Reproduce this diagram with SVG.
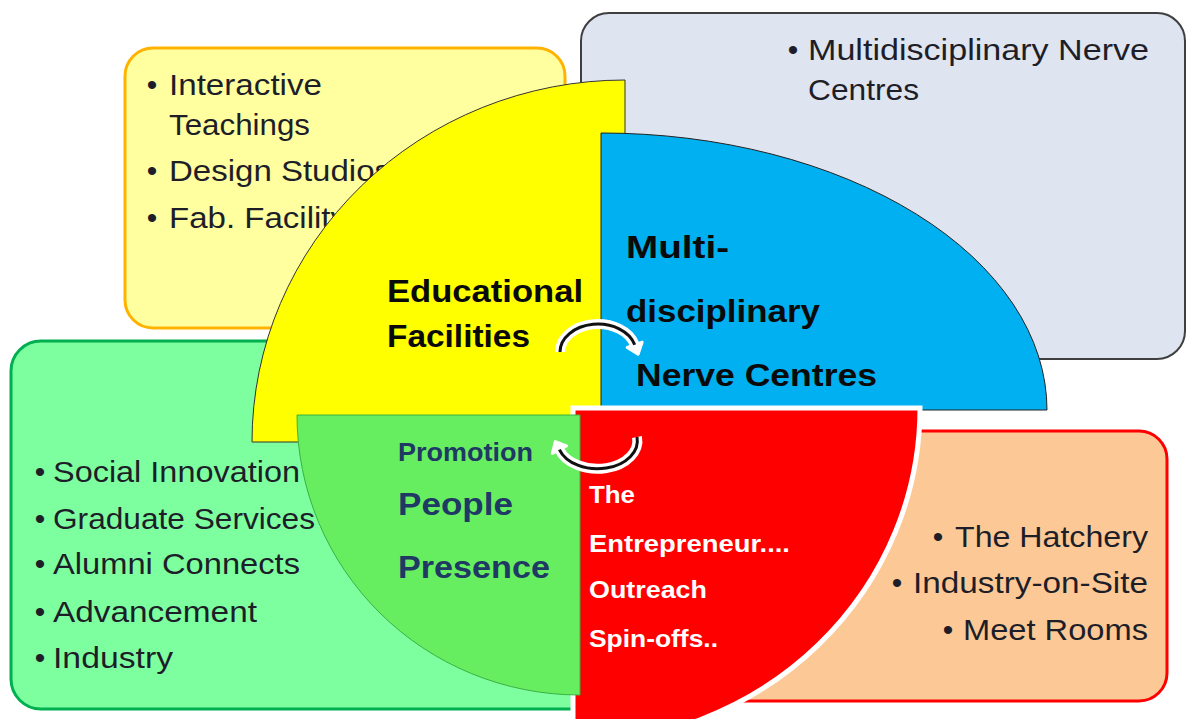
<svg xmlns="http://www.w3.org/2000/svg" width="1187" height="719" viewBox="0 0 1187 719">
<style>
.t{font-family:"Liberation Sans",Arial,sans-serif;font-size:30px;fill:#1e1e28}
.b{font-family:"Liberation Sans",Arial,sans-serif;font-size:30px;fill:#1e1e28;text-anchor:middle}
.lb{font-family:"Liberation Sans",Arial,sans-serif;font-weight:bold;font-size:32px;fill:#0a0a0a}
.nv{font-family:"Liberation Sans",Arial,sans-serif;font-weight:bold;fill:#203864}
.wt{font-family:"Liberation Sans",Arial,sans-serif;font-weight:bold;font-size:24px;fill:#ffffff}
.halo{fill:none;stroke:#ffffff;stroke-width:10}
.line{fill:none;stroke:#111111;stroke-width:3}
</style>
<rect width="1187" height="719" fill="#ffffff"/>
<g id="box-nerve">
<rect x="581" y="13" width="604" height="346" rx="28" fill="#dee4f0" stroke="#3f3f3f" stroke-width="2"/>
<text class="b" x="793" y="60">•</text>
<text class="t" x="808" y="60" textLength="341" lengthAdjust="spacingAndGlyphs">Multidisciplinary Nerve</text>
<text class="t" x="808" y="100" textLength="111" lengthAdjust="spacingAndGlyphs">Centres</text>
</g>
<g id="box-education">
<rect x="125" y="48" width="440" height="280" rx="28" fill="#ffffa0" stroke="#ffb300" stroke-width="3"/>
<text class="b" x="152" y="95">•</text>
<text class="t" x="169" y="95" textLength="153" lengthAdjust="spacingAndGlyphs">Interactive</text>
<text class="t" x="169" y="135" textLength="141" lengthAdjust="spacingAndGlyphs">Teachings</text>
<text class="b" x="152" y="181">•</text>
<text class="t" x="169" y="181" textLength="222" lengthAdjust="spacingAndGlyphs">Design Studios</text>
<text class="b" x="152" y="228">•</text>
<text class="t" x="169" y="228" textLength="178" lengthAdjust="spacingAndGlyphs">Fab. Facility</text>
</g>
<g id="box-promotion">
<rect x="11" y="341" width="640" height="368" rx="30" fill="#7dffa0" stroke="#00b050" stroke-width="3"/>
<text class="b" x="40" y="482">•</text>
<text class="t" x="53" y="482" textLength="247" lengthAdjust="spacingAndGlyphs">Social Innovation</text>
<text class="b" x="40" y="529">•</text>
<text class="t" x="53" y="529" textLength="262" lengthAdjust="spacingAndGlyphs">Graduate Services</text>
<text class="b" x="40" y="574">•</text>
<text class="t" x="53" y="574" textLength="247" lengthAdjust="spacingAndGlyphs">Alumni Connects</text>
<text class="b" x="40" y="622">•</text>
<text class="t" x="53" y="622" textLength="204" lengthAdjust="spacingAndGlyphs">Advancement</text>
<text class="b" x="40" y="668">•</text>
<text class="t" x="53" y="668" textLength="120" lengthAdjust="spacingAndGlyphs">Industry</text>
</g>
<g id="box-entrepreneur">
<rect x="620" y="431" width="547" height="270" rx="28" fill="#fcc996" stroke="#ff0000" stroke-width="3"/>
<text class="b" x="938" y="547">•</text>
<text class="t" x="955" y="547" textLength="193" lengthAdjust="spacingAndGlyphs">The Hatchery</text>
<text class="b" x="897" y="593">•</text>
<text class="t" x="913" y="593" textLength="235" lengthAdjust="spacingAndGlyphs">Industry-on-Site</text>
<text class="b" x="948" y="640">•</text>
<text class="t" x="963" y="640" textLength="185" lengthAdjust="spacingAndGlyphs">Meet Rooms</text>
</g>
<g id="quarter-education">
<path d="M625,442 L252,442 A373,362 0 0 1 625,80 Z" fill="#ffff00" stroke="#333333" stroke-width="1"/>
<text class="lb" x="387" y="302" textLength="196" lengthAdjust="spacingAndGlyphs">Educational</text>
<text class="lb" x="387" y="347" textLength="143" lengthAdjust="spacingAndGlyphs">Facilities</text>
</g>
<g id="quarter-nerve">
<path d="M601,410 L601,133 A446,277 0 0 1 1047,410 Z" fill="#00b0f0" stroke="#222222" stroke-width="1"/>
<text class="lb" x="626" y="258" textLength="103" lengthAdjust="spacingAndGlyphs">Multi-</text>
<text class="lb" x="626" y="322" textLength="194" lengthAdjust="spacingAndGlyphs">disciplinary</text>
<text class="lb" x="636" y="386" textLength="241" lengthAdjust="spacingAndGlyphs">Nerve Centres</text>
</g>
<g id="quarter-entrepreneur">
<path d="M573,408 L920,408 A347,335 0 0 1 573,743 Z" fill="#ff0000" stroke="#ffffff" stroke-width="5"/>
<text class="wt" x="589" y="503" textLength="46" lengthAdjust="spacingAndGlyphs">The</text>
<text class="wt" x="589" y="552" textLength="201" lengthAdjust="spacingAndGlyphs">Entrepreneur....</text>
<text class="wt" x="589" y="598" textLength="118" lengthAdjust="spacingAndGlyphs">Outreach</text>
<text class="wt" x="589" y="647" textLength="129" lengthAdjust="spacingAndGlyphs">Spin-offs..</text>
</g>
<g id="quarter-promotion">
<path d="M580,415 L580,695 A283,280 0 0 1 297,415 Z" fill="#66ee60" stroke="#3cb043" stroke-width="1"/>
<text class="nv" x="398" y="461" font-size="25" textLength="135" lengthAdjust="spacingAndGlyphs">Promotion</text>
<text class="nv" x="398" y="515" font-size="31" textLength="115" lengthAdjust="spacingAndGlyphs">People</text>
<text class="nv" x="398" y="578" font-size="31" textLength="152" lengthAdjust="spacingAndGlyphs">Presence</text>
</g>
<g id="connectors">
<path class="halo" d="M560,352 A38,28 0 0 1 634.7,344.8"/>
<polygon points="642.2,342.1 627.2,347.5 638.1,354.2" fill="#ffffff" stroke="#ffffff" stroke-width="3" stroke-linejoin="round"/>
<path class="line" d="M560,352 A38,28 0 0 1 634.7,344.8"/>
<path class="halo" d="M637,437 A40,28 0 0 1 559.4,449.6"/>
<polygon points="566.5,445.9 552.3,453.3 555.3,441.6" fill="#ffffff" stroke="#ffffff" stroke-width="3" stroke-linejoin="round"/>
<path class="line" d="M637,437 A40,28 0 0 1 559.4,449.6"/>
</g>
</svg>
